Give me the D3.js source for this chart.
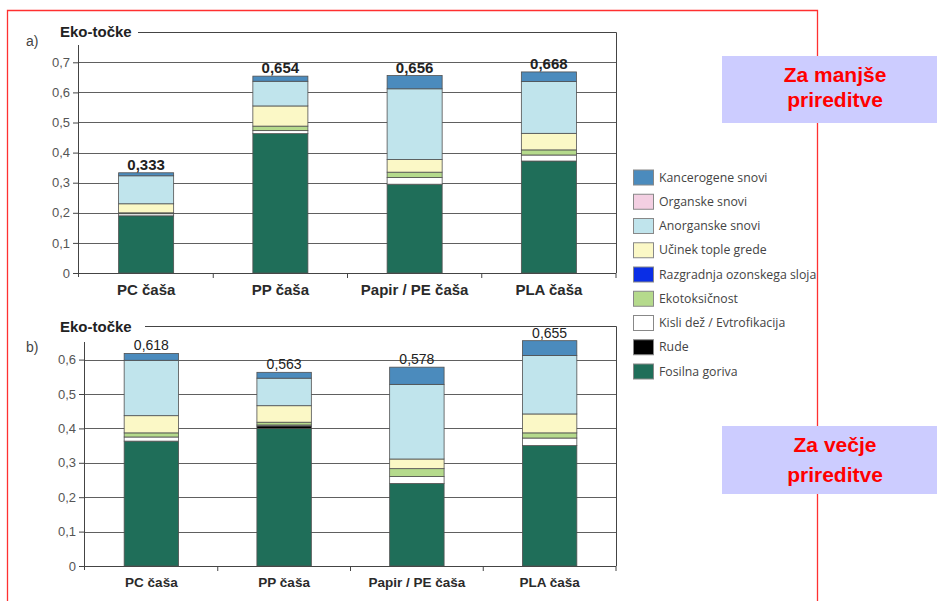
<!DOCTYPE html>
<html><head><meta charset="utf-8">
<script src="https://cdn.jsdelivr.net/npm/d3@7"></script>
<style>body{margin:0;background:#fff}svg{display:block}</style>
</head><body><svg id="c" width="937" height="601"></svg>
<script>
const categories = ["PC čaša","PP čaša","Papir / PE čaša","PLA čaša"];
const seriesNames = ["Fosilna goriva","Rude","Kisli dež / Evtrofikacija","Ekotoksičnost","Razgradnja ozonskega sloja","Učinek tople grede","Anorganske snovi","Organske snovi","Kancerogene snovi"];
const seriesColors = ["#1f6e59","#000000","#ffffff","#b5da8c","#0a2ee6","#fbf8c6","#c0e4ec","#f3cfe2","#4b8bbd"];
// a) Za manjše prireditve
const fosilA  = [0.190,0.463,0.295,0.372];
const rudeA   = [0,0,0,0];
const kisliA  = [0.007,0.010,0.022,0.020];
const ekotoxA = [0.003,0.015,0.018,0.017];
const ozonA   = [0,0,0,0];
const topleA  = [0.030,0.067,0.042,0.055];
const anorgA  = [0.093,0.082,0.235,0.172];
const orgA    = [0,0,0,0];
const kancA   = [0.010,0.017,0.044,0.032];
const totalsA = ["0,333","0,654","0,656","0,668"];
const ticksA  = [0,0.1,0.2,0.3,0.4,0.5,0.6,0.7];
// b) Za večje prireditve
const fosilB  = [0.363,0.400,0.240,0.350];
const rudeB   = [0,0.007,0,0];
const kisliB  = [0.012,0.003,0.020,0.022];
const ekotoxB = [0.012,0.008,0.023,0.015];
const ozonB   = [0,0,0,0];
const topleB  = [0.050,0.048,0.028,0.055];
const anorgB  = [0.161,0.080,0.217,0.170];
const orgB    = [0,0,0,0];
const kancB   = [0.020,0.017,0.050,0.043];
const totalsB = ["0,618","0,563","0,578","0,655"];
const ticksB  = [0,0.1,0.2,0.3,0.4,0.5,0.6];

const svg = d3.select("#c");
const fmt = v => v === 0 ? "0" : d3.format(".1f")(v).replace(".", ",");

function buildRows(arrs){
  return categories.map((c,i)=>{
    const r = {cat:c};
    seriesNames.forEach((s,j)=> r[s] = arrs[j][i]);
    return r;
  });
}

function drawChart(cfg){
  const g = svg.append("g");
  const x = d3.scaleBand().domain(categories).range([cfg.x0,cfg.x1]).paddingInner(0.59).paddingOuter(0.295);
  const y = d3.scaleLinear().domain([0,cfg.max]).range([cfg.y0,cfg.yMax]);
  const step = x.step();
  // gridlines
  g.selectAll("line.grid").data(cfg.ticks.filter(t=>t>0)).join("line")
    .attr("x1",cfg.x0).attr("x2",cfg.x1).attr("y1",d=>Math.round(y(d))+0.5).attr("y2",d=>Math.round(y(d))+0.5)
    .attr("stroke","#606060").attr("stroke-width",1);
  // y axis
  const ya = d3.axisLeft(y).tickValues(cfg.ticks).tickFormat(fmt).tickSize(6).tickPadding(3);
  const yg = g.append("g").attr("transform",`translate(${cfg.x0},0)`).call(ya);
  yg.select(".domain").attr("d",`M-0.5,${cfg.axisTop}V${cfg.y0+4}`).attr("stroke","#444");
  yg.selectAll(".tick line").attr("stroke","#444");
  yg.selectAll(".tick text").attr("font-family","Liberation Sans, Arial, sans-serif").attr("font-size",13).attr("fill","#555");
  // x axis
  const xa = d3.axisBottom(x).tickSize(0).tickPadding(cfg.xPad);
  const xg = g.append("g").attr("transform",`translate(0,${cfg.y0})`).call(xa);
  xg.select(".domain").attr("d",`M${cfg.x0-6},0.5H${cfg.x1}`).attr("stroke","#444");
  xg.selectAll(".tick text").attr("font-family","Liberation Sans, Arial, sans-serif")
    .attr("font-size",cfg.catSize).attr("font-weight","bold").attr("fill","#2a2a2a");
  // separator ticks
  g.selectAll("line.sep").data(d3.range(1,categories.length+1)).join("line")
    .attr("x1",d=>cfg.x0+step*d).attr("x2",d=>cfg.x0+step*d)
    .attr("y1",cfg.y0).attr("y2",cfg.y0+5).attr("stroke","#444");
  // frame
  g.append("path").attr("d",`M${cfg.titleEnd},${cfg.frameTop+0.5}H${cfg.x1+0.5}V${cfg.y0}`)
    .attr("fill","none").attr("stroke","#444");
  // stacked bars
  const rows = buildRows(cfg.arrs);
  const stack = d3.stack().keys(seriesNames)(rows);
  stack.forEach((layer,j)=>{
    g.append("g").selectAll("rect").data(layer.filter(d=>d[1]-d[0]>0)).join("rect")
      .attr("x",d=>x(d.data.cat)).attr("width",x.bandwidth())
      .attr("y",d=>y(d[1])).attr("height",d=>y(d[0])-y(d[1]))
      .attr("fill",seriesColors[j]).attr("stroke","#505050").attr("stroke-width",0.8);
  });
  // totals
  const top = stack[stack.length-1];
  g.selectAll("text.tot").data(top).join("text")
    .attr("x",d=>x(d.data.cat)+x.bandwidth()/2).attr("y",d=>y(d[1])-3)
    .attr("text-anchor","middle").attr("font-family","Liberation Sans, Arial, sans-serif")
    .attr("font-size",cfg.totSize).attr("font-weight",cfg.totWeight).attr("fill","#222")
    .text((d,i)=>cfg.totals[i]);
  // title
  g.append("text").attr("x",60).attr("y",cfg.titleY).attr("font-family","Liberation Sans, Arial, sans-serif")
    .attr("font-size",15).attr("font-weight","bold").attr("fill","#222").text("Eko-točke");
  g.append("text").attr("x",26).attr("y",cfg.labY).attr("font-family","Liberation Sans, Arial, sans-serif")
    .attr("font-size",14).attr("fill","#444").text(cfg.lab);
}

drawChart({x0:79,x1:616,y0:273,yMax:273-7*30.1,max:0.7,ticks:ticksA,axisTop:45,frameTop:32,titleEnd:138,titleY:37,
  labY:46,lab:"a)",xPad:11,catSize:15,totSize:15,totWeight:"bold",totals:totalsA,
  arrs:[fosilA,rudeA,kisliA,ekotoxA,ozonA,topleA,anorgA,orgA,kancA]});
drawChart({x0:85,x1:616,y0:566,yMax:566-6*34.4,max:0.6,ticks:ticksB,axisTop:342,frameTop:326,titleEnd:145,titleY:332,
  labY:352,lab:"b)",xPad:11,catSize:13.5,totSize:14,totWeight:"normal",totals:totalsB,
  arrs:[fosilB,rudeB,kisliB,ekotoxB,ozonB,topleB,anorgB,orgB,kancB]});

// legend
const legendItems = seriesNames.map((s,i)=>({name:s,color:seriesColors[i]})).reverse();
const lg = svg.append("g");
legendItems.forEach((d,i)=>{
  const cy = 177.5 + i*24.25;
  lg.append("rect").attr("x",633.5).attr("y",cy-7.5).attr("width",20).attr("height",15)
    .attr("fill",d.color).attr("stroke","#888");
  lg.append("text").attr("x",659).attr("y",cy+4).attr("font-family","Open Sans, sans-serif")
    .attr("font-size",12.3).attr("fill","#444").text(d.name);
});

// red frame
svg.append("path").attr("d","M7.5,601V10.5H817.5V601").attr("fill","none").attr("stroke","#ff3030").attr("stroke-width",1.3);

// note boxes
const notes = [{y:56,h:67,lines:["Za manjše","prireditve"],base:[82,107]},{y:426,h:68,lines:["Za večje","prireditve"],base:[452,482]}];
notes.forEach(n=>{
  svg.append("rect").attr("x",722).attr("y",n.y).attr("width",215).attr("height",n.h).attr("fill","#ccccff");
  n.lines.forEach((t,i)=>svg.append("text").attr("x",835).attr("y",n.base[i]).attr("text-anchor","middle")
    .attr("font-family","Liberation Sans, Arial, sans-serif").attr("font-weight","bold").attr("font-size",21)
    .attr("fill","#ff0000").text(t));
});
</script></body></html>
